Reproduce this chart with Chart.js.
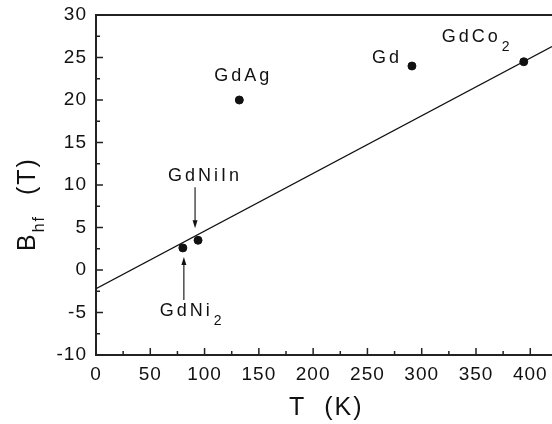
<!DOCTYPE html>
<html>
<head>
<meta charset="utf-8">
<script src="https://cdn.jsdelivr.net/npm/chart.js@4"></script>
<style>
  body { margin: 0; background: #fff; }
  canvas { display: block; }
</style>
</head>
<body>
<canvas id="myChart" width="552" height="424"></canvas>
<script>
// compounds, ordering temperature (K) and hyperfine field (T)
var names = ['GdNi2', 'GdNiIn', 'GdAg', 'Gd', 'GdCo2'];
var temps = [80, 94, 132, 291, 394];
var fields = [2.6, 3.5, 20, 24, 24.5];
// straight fit line end points
var fitT = [0, 420];
var fitB = [-2.2, 26.3];
// axis ticks
var xTicks = [0, 50, 100, 150, 200, 250, 300, 350, 400];
var yTicks = [-10, -5, 0, 5, 10, 15, 20, 25, 30];

var font = 'Arial, "Liberation Sans", Helvetica, sans-serif';

var points = [];
for (var i = 0; i < names.length; i++) {
  points.push({x: temps[i], y: fields[i]});
}
var fit = [];
for (var i = 0; i < fitT.length; i++) {
  fit.push({x: fitT[i], y: fitB[i]});
}

// label text: main part, subscript part, offset from the point (px)
var labels = {
  'GdNi2':  {main: 'GdNi', sub: '2', dx: -23, dy: 68, arrow: {dx: 1, from: 52, to: 9}},
  'GdNiIn': {main: 'GdNiIn', sub: '', dx: -30, dy: -59, arrow: {dx: -3, from: -53, to: -12}},
  'GdAg':   {main: 'GdAg', sub: '', dx: -25, dy: -19},
  'Gd':     {main: 'Gd', sub: '', dx: -40, dy: -3},
  'GdCo2':  {main: 'GdCo', sub: '2', dx: -82, dy: -20}
};

function drawSub(ctx, main, sub, x, y, size, subSize, shift) {
  ctx.font = size + 'px ' + font;
  ctx.fillText(main, x, y);
  if (sub) {
    var w = ctx.measureText(main).width;
    ctx.font = subSize + 'px ' + font;
    ctx.fillText(sub, x + w + 1, y + shift);
  }
}

var extras = {
  id: 'extras',
  beforeDraw: function(chart) {
    chart.ctx.letterSpacing = '1px';
  },
  afterDraw: function(chart) {
    var ctx = chart.ctx;
    var xs = chart.scales.x, ys = chart.scales.y;
    var a = chart.chartArea;
    ctx.save();
    ctx.strokeStyle = '#222';
    ctx.fillStyle = '#111';

    // top frame line
    ctx.lineWidth = 2;
    ctx.beginPath();
    ctx.moveTo(a.left, a.top);
    ctx.lineTo(a.right, a.top);
    ctx.stroke();

    // inward ticks, major and minor
    ctx.lineWidth = 1.5;
    ctx.beginPath();
    for (var v = 0; v <= 420; v += 25) {
      var px = xs.getPixelForValue(v);
      var len = v % 50 === 0 ? 7 : 4;
      ctx.moveTo(px, a.bottom);
      ctx.lineTo(px, a.bottom - len);
    }
    for (var v = -10; v <= 30; v += 2.5) {
      var py = ys.getPixelForValue(v);
      var len = v % 5 === 0 ? 7 : 4;
      ctx.moveTo(a.left, py);
      ctx.lineTo(a.left + len, py);
    }
    ctx.stroke();

    // point labels and arrows
    ctx.letterSpacing = '3px';
    ctx.textAlign = 'left';
    ctx.textBaseline = 'alphabetic';
    for (var i = 0; i < names.length; i++) {
      var lb = labels[names[i]];
      var px = xs.getPixelForValue(temps[i]);
      var py = ys.getPixelForValue(fields[i]);
      drawSub(ctx, lb.main, lb.sub, px + lb.dx, py + lb.dy, 18, 14, 9);
      if (lb.arrow) {
        var ax = px + lb.arrow.dx;
        var y0 = py + lb.arrow.from, y1 = py + lb.arrow.to;
        var dir = y1 > y0 ? 1 : -1;
        ctx.lineWidth = 1.2;
        ctx.beginPath();
        ctx.moveTo(ax, y0);
        ctx.lineTo(ax, y1 - dir * 6);
        ctx.stroke();
        ctx.beginPath();
        ctx.moveTo(ax, y1);
        ctx.lineTo(ax - 2.5, y1 - dir * 8);
        ctx.lineTo(ax + 2.5, y1 - dir * 8);
        ctx.closePath();
        ctx.fill();
      }
    }

    // axis titles
    ctx.letterSpacing = '2px';
    ctx.font = '25px ' + font;
    ctx.fillText('T  (K)', 289, 415);

    ctx.save();
    ctx.translate(35, 251);
    ctx.rotate(-Math.PI / 2);
    ctx.font = '25px ' + font;
    ctx.fillText('B', 0, 0);
    var bw = ctx.measureText('B').width;
    ctx.font = '16px ' + font;
    ctx.fillText('hf', bw, 9);
    var hw = ctx.measureText('hf').width;
    ctx.font = '25px ' + font;
    ctx.fillText('(T)', bw + hw + 20, 0);
    ctx.restore();

    ctx.restore();
  }
};

var ctx = document.getElementById('myChart').getContext('2d');
var myChart = new Chart(ctx, {
  type: 'scatter',
  data: {
    datasets: [
      {
        label: 'fit',
        type: 'line',
        data: fit,
        borderColor: '#111',
        borderWidth: 1.3,
        pointRadius: 0,
        fill: false
      },
      {
        label: 'Bhf',
        data: points,
        backgroundColor: '#111',
        borderColor: '#111',
        pointRadius: 4,
        pointHoverRadius: 4
      }
    ]
  },
  options: {
    responsive: false,
    animation: false,
    layout: {autoPadding: false, padding: {top: 15, right: 0, bottom: 0, left: 0}},
    plugins: {legend: {display: false}, tooltip: {enabled: false}},
    scales: {
      x: {
        type: 'linear',
        min: 0,
        max: 420,
        afterBuildTicks: function(scale) {
          scale.ticks = xTicks.map(function(v) { return {value: v}; });
        },
        afterFit: function(scale) {
          scale.height = 69;
          // let the axis run to the right edge of the canvas
          scale.paddingRight = 0;
          scale.paddingLeft = 0;
        },
        grid: {display: true, drawOnChartArea: false, drawTicks: false},
        border: {display: true, color: '#222', width: 2},
        ticks: {color: '#111', font: {family: font, size: 19}, padding: 8, maxRotation: 0}
      },
      y: {
        type: 'linear',
        min: -10,
        max: 30,
        afterBuildTicks: function(scale) {
          scale.ticks = yTicks.map(function(v) { return {value: v}; });
        },
        afterFit: function(scale) {
          scale.width = 96;
          scale.paddingTop = 0;
          scale.paddingBottom = 0;
        },
        grid: {display: true, drawOnChartArea: false, drawTicks: false},
        border: {display: true, color: '#222', width: 2},
        ticks: {color: '#111', font: {family: font, size: 19}, padding: 9}
      }
    }
  },
  plugins: [extras]
});
</script>
</body>
</html>
